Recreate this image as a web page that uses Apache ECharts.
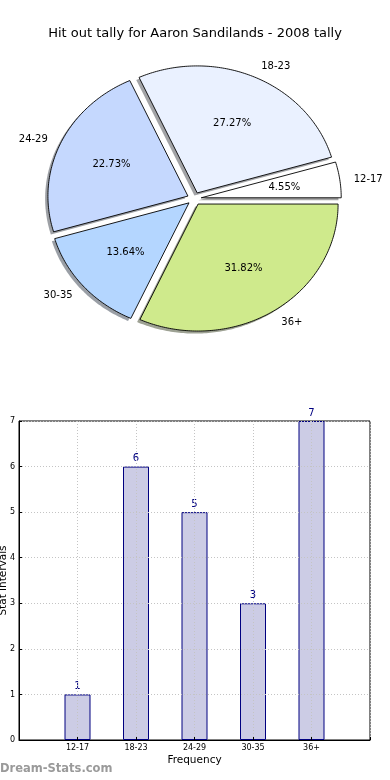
<!DOCTYPE html>
<html>
<head>
<meta charset="utf-8">
<script src="https://cdn.jsdelivr.net/npm/echarts@6/dist/echarts.min.js"></script>
<style>
html,body{margin:0;padding:0;background:#fff;}
#chart{width:390px;height:780px;}
</style>
</head>
<body>
<div id="chart"></div>
<script>
// ---- data ----
const titleText = 'Hit out tally for Aaron Sandilands - 2008 tally';
const categories = ['12-17', '18-23', '24-29', '30-35', '36+'];
const tallyValues = [1, 6, 5, 3, 7];
const sliceColors = ['#FFFFFF', '#EAF1FF', '#C5D8FE', '#B4D6FF', '#CFEA8C'];
const yTicks = [0, 1, 2, 3, 4, 5, 6, 7];
const xAxisName = 'Frequency';
const yAxisName = 'Stat intervals';
const watermark = 'Dream-Stats.com';

// ---- style constants ----
const FONT = '"DejaVu Sans", sans-serif';
const EXPLODE = 0.05;
const SHADOW_OFF = 0.02;

const total = tallyValues.reduce((a, b) => a + b, 0);

function hexToRgb(h) {
  const n = parseInt(h.slice(1), 16);
  return [(n >> 16) & 255, (n >> 8) & 255, n & 255];
}

function renderPie(params, api) {
  const i = params.dataIndex;
  let start = 0;
  for (let k = 0; k < i; k++) start += tallyValues[k];
  const a0 = start / total * 2 * Math.PI;
  const a1 = (start + tallyValues[i]) / total * 2 * Math.PI;
  const mid = (a0 + a1) / 2;
  const ox = EXPLODE * Math.cos(mid), oy = EXPLODE * Math.sin(mid);
  const n = Math.max(6, Math.ceil((a1 - a0) / 0.015));
  const dataPts = [[ox, oy]];
  for (let k = 0; k <= n; k++) {
    const t = a0 + (a1 - a0) * k / n;
    dataPts.push([ox + Math.cos(t), oy + Math.sin(t)]);
  }
  const pts = dataPts.map(p => api.coord(p));
  const shPts = dataPts.map(p => api.coord([p[0] - SHADOW_OFF, p[1] - SHADOW_OFF]));
  const rgb = hexToRgb(sliceColors[i]);
  const shColor = 'rgba(' + Math.round(rgb[0] * 0.3) + ',' + Math.round(rgb[1] * 0.3) + ',' + Math.round(rgb[2] * 0.3) + ',0.5)';
  const pctPos = api.coord([ox + 0.6 * Math.cos(mid), oy + 0.6 * Math.sin(mid)]);
  const lblPos = api.coord([ox + 1.1 * Math.cos(mid), oy + 1.1 * Math.sin(mid)]);
  const pct = (tallyValues[i] / total * 100).toFixed(2) + '%';
  return {
    type: 'group',
    children: [
      { type: 'polygon', z2: 1, shape: { points: shPts }, style: { fill: shColor, stroke: null } },
      { type: 'polygon', z2: 10, shape: { points: pts }, style: { fill: sliceColors[i], stroke: '#000', lineWidth: 0.9, lineJoin: 'miter' } },
      { type: 'text', z2: 20, style: { text: pct, x: pctPos[0], y: pctPos[1], fill: '#000', font: '10px ' + FONT, align: 'center', verticalAlign: 'middle' } },
      { type: 'text', z2: 20, style: { text: categories[i], x: lblPos[0], y: lblPos[1] + 1, fill: '#000', font: '10px ' + FONT, align: Math.cos(mid) > 0 ? 'left' : 'right', verticalAlign: 'middle' } }
    ]
  };
}

const chart = echarts.init(document.getElementById('chart'), null, { renderer: 'canvas' });
chart.setOption({
  animation: false,
  backgroundColor: '#fff',
  title: {
    text: titleText, left: 'center', top: 22,
    textStyle: { fontFamily: FONT, fontSize: 13, fontWeight: 'normal', color: '#000' }
  },
  graphic: [{
    type: 'text', left: 0, top: 763,
    style: { text: watermark, fill: '#9a9a9a', font: 'bold 11.5px ' + FONT }
  }],
  grid: [
    { left: 54.3, top: 71.7, width: 280, height: 254, show: false, containLabel: false, outerBoundsMode: 'none' },
    { left: 19, top: 421, right: 20, bottom: 40, show: true, borderColor: '#000', borderWidth: 1, backgroundColor: 'transparent', containLabel: false, outerBoundsMode: 'none' }
  ],
  xAxis: [
    { gridIndex: 0, type: 'value', min: -1, max: 1, show: false },
    {
      gridIndex: 1, type: 'value', min: 0, max: 6, interval: 1, z: 5,
      name: xAxisName, nameLocation: 'middle', nameGap: 15, nameMoveOverlap: false,
      nameTextStyle: { fontFamily: FONT, fontSize: 10.5, color: '#000' },
      axisLine: { show: true, lineStyle: { color: '#000', width: 1 } },
      axisTick: { show: true, inside: true, length: 3, lineStyle: { color: '#000' } },
      axisLabel: {
        fontFamily: FONT, fontSize: 8, color: '#000', margin: 4,
        formatter: v => categories[v - 1] || ''
      },
      splitLine: { show: true, lineStyle: { color: '#c4c4c4', type: [1, 2], width: 1 } }
    }
  ],
  yAxis: [
    { gridIndex: 0, type: 'value', min: -1, max: 1, show: false },
    {
      gridIndex: 1, type: 'value', min: 0, max: 7, interval: 1, z: 5,
      name: yAxisName, nameLocation: 'middle', nameGap: 10, nameRotate: 90, nameMoveOverlap: false,
      nameTextStyle: { fontFamily: FONT, fontSize: 10.5, color: '#000' },
      axisLine: { show: true, lineStyle: { color: '#000', width: 1 } },
      axisTick: { show: true, inside: true, length: 3, lineStyle: { color: '#000' } },
      axisLabel: { fontFamily: FONT, fontSize: 8, color: '#000', margin: 4, formatter: v => yTicks.indexOf(v) >= 0 ? String(v) : '' },
      splitLine: { show: true, lineStyle: { color: '#c4c4c4', type: [1, 2], width: 1 } }
    }
  ],
  series: [
    {
      type: 'custom', xAxisIndex: 0, yAxisIndex: 0, clip: false,
      renderItem: renderPie,
      data: tallyValues.map((v, i) => [i, v])
    },
    {
      type: 'bar', xAxisIndex: 1, yAxisIndex: 1, z: 1,
      barWidth: 26,
      data: tallyValues.map((v, i) => [i + 1, v]),
      itemStyle: { color: '#CCCCE5', borderColor: '#000080', borderWidth: 1 },
      label: { show: true, position: 'top', distance: 3, color: '#000080', fontFamily: FONT, fontSize: 10 }
    }
  ]
});
</script>
</body>
</html>
